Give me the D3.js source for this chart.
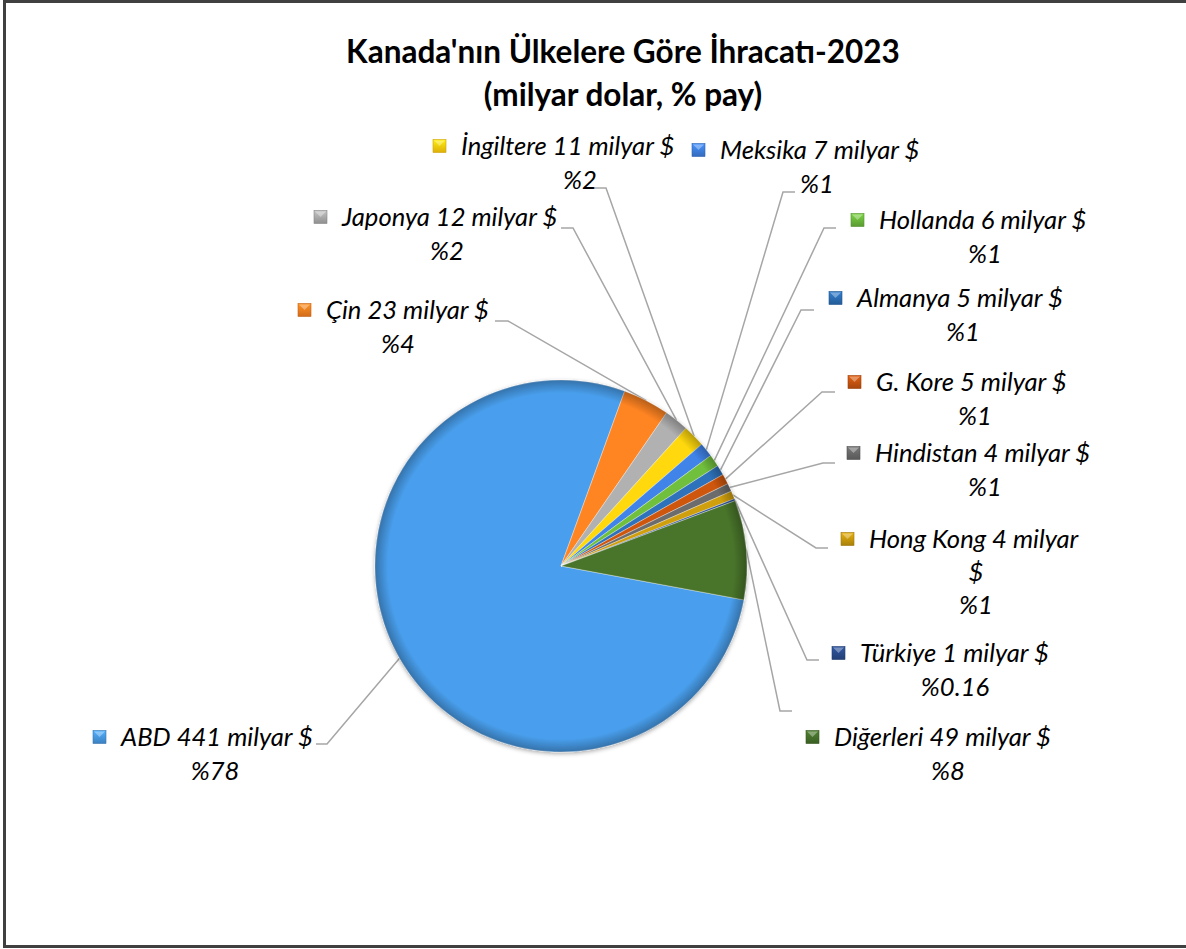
<!DOCTYPE html>
<html>
<head>
<meta charset="utf-8">
<script src="https://cdn.jsdelivr.net/npm/d3@7"></script>
<style>
  html, body { margin: 0; padding: 0; background: #fff; }
  svg { display: block; }
</style>
</head>
<body>
<svg id="chart" width="1186" height="949"></svg>
<script>
// ---------- data ----------
const categories = ["ABD", "Çin", "Japonya", "İngiltere", "Meksika", "Hollanda", "Almanya", "G. Kore", "Hindistan", "Hong Kong", "Türkiye", "Diğerleri"];
const values = [441, 23, 12, 11, 7, 6, 5, 5, 4, 4, 1, 49];
const percentLabels = ["%78", "%4", "%2", "%2", "%1", "%1", "%1", "%1", "%1", "%1", "%0.16", "%8"];
const unitLabel = "milyar $";
const titleLines = ["Kanada'nın Ülkelere Göre İhracatı-2023", "(milyar dolar, % pay)"];
const colors = ["#4594DD", "#F27B1E", "#A5A5A5", "#FFC90A", "#3B7BDA", "#68B23A", "#2A6AAE", "#C0500E", "#656565", "#C2940C", "#284A88", "#436C28"];

// ---------- layout (label placement, manual as in the source) ----------
const labelLayout = [
  { mx: 93,  y: 737, cx: 215, lx: 316, ex: 327, ly: 744 },
  { mx: 298, y: 310, cx: 398, lx: 495, ex: 508, ly: 321 },
  { mx: 314, y: 217, cx: 447, lx: 561, ex: 573, ly: 228 },
  { mx: 433, y: 146, cx: 580, lx: 594, ex: 606, ly: 188 },
  { mx: 692, y: 150, cx: 817, lx: 795, ex: 783, ly: 192 },
  { mx: 851, y: 220, cx: 985, lx: 836, ex: 824, ly: 228 },
  { mx: 829, y: 298, cx: 963, lx: 814, ex: 801, ly: 310 },
  { mx: 848, y: 382, cx: 975, lx: 835, ex: 822, ly: 392 },
  { mx: 847, y: 453, cx: 985, lx: 835, ex: 823, ly: 463 },
  { mx: 841, y: 539, cx: 976, lx: 828, ex: 816, ly: 548, wrap: true },
  { mx: 832, y: 653, cx: 955, lx: 819, ex: 807, ly: 660 },
  { mx: 806, y: 737, cx: 948, lx: 792, ex: 780, ly: 711 }
];

const W = 1186, H = 949;
const cx = 561, cy = 566, R = 186;
const startDeg = 100.5;

const svg = d3.select("#chart");
const defs = svg.append("defs");

// frame
svg.append("rect").attr("x", 4.5).attr("y", 1.5).attr("width", W + 10).attr("height", 945)
  .attr("fill", "#fff").attr("stroke", "#404040").attr("stroke-width", 3);

// title
svg.append("g").selectAll("text").data(titleLines).join("text")
  .attr("x", 623).attr("y", (d, i) => 63 + i * 43)
  .attr("text-anchor", "middle")
  .attr("font-family", "Lato, 'Open Sans', sans-serif")
  .attr("font-weight", "bold").attr("font-size", 31.5)
  .attr("fill", "#000").text(d => d);

// gradients
colors.forEach((c, i) => {
  const g = defs.append("linearGradient").attr("id", "sg" + i)
    .attr("gradientUnits", "userSpaceOnUse")
    .attr("x1", cx).attr("y1", cy - R).attr("x2", cx).attr("y2", cy + R);
  g.append("stop").attr("offset", "0%").attr("stop-color", d3.color(c).brighter(0.2));
  g.append("stop").attr("offset", "100%").attr("stop-color", d3.color(c).darker(0.2));
  const m = defs.append("linearGradient").attr("id", "mg" + i)
    .attr("x1", 0).attr("y1", 0).attr("x2", 0).attr("y2", 1);
  m.append("stop").attr("offset", "0%").attr("stop-color", d3.color(c).brighter(0.5));
  m.append("stop").attr("offset", "100%").attr("stop-color", d3.color(c).darker(0.4));
});
const rimGrad = defs.append("radialGradient").attr("id", "rim")
  .attr("gradientUnits", "userSpaceOnUse").attr("cx", 0).attr("cy", 0).attr("r", R);
rimGrad.append("stop").attr("offset", "0.93").attr("stop-color", "#000").attr("stop-opacity", 0);
rimGrad.append("stop").attr("offset", "1").attr("stop-color", "#000").attr("stop-opacity", 0.28);
const shadow = defs.append("filter").attr("id", "shadow").attr("x", "-20%").attr("y", "-20%").attr("width", "140%").attr("height", "140%");
shadow.append("feDropShadow").attr("dx", 0).attr("dy", 1.5).attr("stdDeviation", 2).attr("flood-color", "#000").attr("flood-opacity", 0.35);

const pie = d3.pie().sort(null).value(d => d)
  .startAngle(startDeg * Math.PI / 180)
  .endAngle(startDeg * Math.PI / 180 + 2 * Math.PI);
const arcs = pie(values);
const arc = d3.arc().innerRadius(0).outerRadius(R);

// leader lines
const leaders = svg.append("g");
arcs.forEach((a, i) => {
  const mid = (a.startAngle + a.endAngle) / 2;
  const px = cx + Math.sin(mid) * R, py = cy - Math.cos(mid) * R;
  const L = labelLayout[i];
  leaders.append("path")
    .attr("d", d3.line()([[px, py], [L.ex, L.ly], [L.lx, L.ly]]))
    .attr("fill", "none").attr("stroke", "#A6A6A6").attr("stroke-width", 1.5);
});

// pie
const pg = svg.append("g").attr("transform", `translate(${cx},${cy})`);
const sg = pg.append("g").attr("filter", "url(#shadow)");
sg.selectAll("path.slice").data(arcs).join("path").attr("class", "slice")
  .attr("d", arc)
  .attr("fill", (d, i) => `url(#sg${i})`)
  .attr("stroke", "rgba(255,255,255,0.45)").attr("stroke-width", 0.8);
pg.append("circle").attr("r", R).attr("fill", "url(#rim)").attr("pointer-events", "none");

// labels
const lg = svg.append("g")
  .attr("font-family", "Lato, 'Open Sans', sans-serif")
  .attr("font-style", "italic").attr("font-size", 25.6).attr("fill", "#000");
categories.forEach((name, i) => {
  const L = labelLayout[i];
  const g = lg.append("g");
  g.append("rect").attr("x", L.mx).attr("y", L.y - 6.5).attr("width", 13).attr("height", 13)
    .attr("fill", `url(#mg${i})`).attr("stroke", d3.color(colors[i]).darker(0.6)).attr("stroke-width", 0.6);
  g.append("path")
    .attr("d", `M${L.mx + 1},${L.y - 5.5}L${L.mx + 12},${L.y - 5.5}L${L.mx + 6.5},${L.y}Z`)
    .attr("fill", "#fff").attr("opacity", 0.35);
  if (L.wrap) {
    g.append("text").attr("x", L.mx + 28).attr("y", L.y).attr("dy", "0.35em").text(`${name} ${values[i]} milyar`);
    g.append("text").attr("x", L.cx).attr("y", L.y + 33).attr("dy", "0.35em").attr("text-anchor", "middle").text("$");
    g.append("text").attr("x", L.cx).attr("y", L.y + 66).attr("dy", "0.35em").attr("text-anchor", "middle").text(percentLabels[i]);
  } else {
    g.append("text").attr("x", L.mx + 28).attr("y", L.y).attr("dy", "0.35em").text(`${name} ${values[i]} ${unitLabel}`);
    g.append("text").attr("x", L.cx).attr("y", L.y + 34).attr("dy", "0.35em").attr("text-anchor", "middle").text(percentLabels[i]);
  }
});
</script>
</body>
</html>
